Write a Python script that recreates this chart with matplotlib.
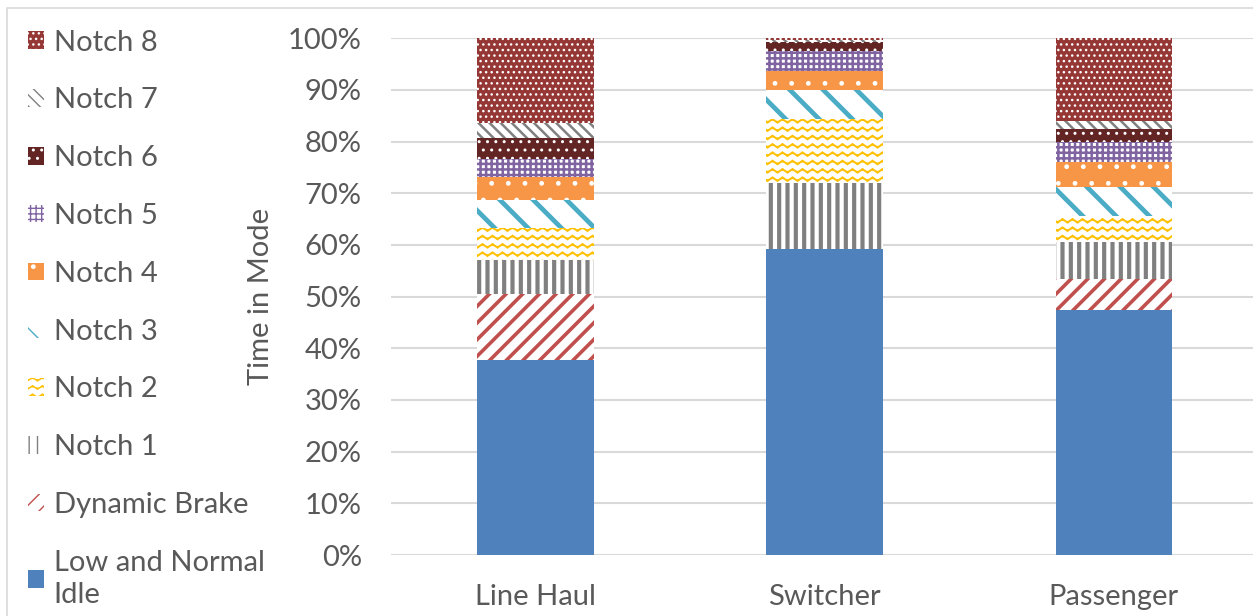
import numpy as np
import matplotlib
matplotlib.use("Agg")
import matplotlib.pyplot as plt
from matplotlib import hatch as mhatch
from matplotlib.patches import Rectangle
from matplotlib.ticker import PercentFormatter
import warnings

warnings.filterwarnings("ignore")

# --- data: share of time in each throttle mode (%) ---
categories = ["Line Haul", "Switcher", "Passenger"]
modes = ["Low and Normal\nIdle", "Dynamic Brake", "Notch 1", "Notch 2", "Notch 3",
         "Notch 4", "Notch 5", "Notch 6", "Notch 7", "Notch 8"]
idle = [37.7, 59.3, 47.4]
dyn_brake = [12.8, 0.0, 6.1]
notch1 = [6.6, 12.6, 7.1]
notch2 = [6.2, 12.4, 4.9]
notch3 = [5.4, 5.6, 5.7]
notch4 = [4.5, 3.8, 4.9]
notch5 = [3.5, 3.8, 3.9]
notch6 = [3.9, 1.8, 2.5]
notch7 = [3.0, 0.4, 1.5]
notch8 = [16.4, 0.3, 16.0]
series = [idle, dyn_brake, notch1, notch2, notch3, notch4, notch5, notch6, notch7, notch8]

# (facecolor, hatch colour, hatch, hatch linewidth)
styles = [
    ("#4F81BD", "#4F81BD", None, 1.0),
    ("white", "#C0504D", "//", 2.6),
    ("white", "#808080", "||", 3.0),
    ("white", "#FFC000", "~~", 1.4),
    ("white", "#4BACC6", "\\", 3.4),
    ("#F79646", "white", ".", 1.0),
    ("white", "#8064A2", "+++", 1.8),
    ("#632523", "white", "..", 1.0),
    ("white", "#808080", "\\\\\\", 1.8),
    ("#953735", "white", "...", 1.0),
]


# wavy hatch for Notch 2 ("~")
class WaveHatch(mhatch.HatchPatternBase):
    steps = 40

    def __init__(self, hatch, density):
        self.num_rows = int(hatch.count("~") * density)
        self.num_vertices = self.num_rows * (self.steps + 1)

    def set_vertices_and_codes(self, vertices, codes):
        x = np.linspace(0.0, 1.0, self.steps + 1)
        n = self.steps + 1
        for i in range(self.num_rows):
            y = (i + 0.5) / self.num_rows + 0.018 * np.sin(2 * np.pi * 10 * x)
            vertices[i * n:(i + 1) * n, 0] = x
            vertices[i * n:(i + 1) * n, 1] = y
            codes[i * n] = mhatch.Path.MOVETO
            codes[i * n + 1:(i + 1) * n] = mhatch.Path.LINETO


mhatch._hatch_types.append(WaveHatch)

plt.rcParams["font.family"] = ["Lato", "DejaVu Sans"]
plt.rcParams["font.size"] = 21
plt.rcParams["text.color"] = "#595959"

fig = plt.figure(figsize=(12.53, 6.16), dpi=100)
ax = fig.add_axes([0.312, 0.099, 0.69, 0.839])

x = np.arange(len(categories))
bottom = np.zeros(len(categories))
containers = []
for vals, (fc, hc, h, hlw) in zip(series, styles):
    with plt.rc_context({"hatch.linewidth": hlw}):
        bc = ax.bar(x, vals, width=0.403, bottom=bottom, facecolor=fc,
                    edgecolor=hc, hatch=h, linewidth=0, zorder=3)
    for p in bc.patches:
        if hasattr(p, "set_hatch_linewidth"):
            p.set_hatch_linewidth(hlw)
    containers.append(bc)
    bottom += np.array(vals)

ax.set_ylim(0, 100)
ax.set_xlim(-0.5, 2.49)
ax.set_yticks(np.arange(0, 101, 10))
ax.yaxis.set_major_formatter(PercentFormatter(decimals=0))
ax.set_xticks(x)
ax.set_xticklabels(categories)
ax.tick_params(length=0, colors="#595959", labelsize=21)
ax.tick_params(axis="y", pad=21)
ax.tick_params(axis="x", pad=21)
ax.grid(axis="y", color="#D9D9D9", linewidth=1.5, zorder=0)
for s in ax.spines.values():
    s.set_visible(False)
ax.set_ylabel("Time in Mode", fontsize=21, color="#595959", labelpad=10)

# legend, top entry first
leg = fig.legend(containers[::-1], modes[::-1], loc="upper left",
                 bbox_to_anchor=(0.022, 0.952), frameon=False, fontsize=21,
                 handlelength=0.55, handleheight=0.55, handletextpad=0.35,
                 labelspacing=1.09, borderpad=0, borderaxespad=0)
for t in leg.get_texts():
    t.set_color("#595959")
    t.set_linespacing(1.3)

# chart frame
fig.patches.append(Rectangle((7 / 1253, -0.1), 1.2, 1.1 - 8 / 616,
                             transform=fig.transFigure, fill=False,
                             edgecolor="#D9D9D9", linewidth=1.2))

fig.savefig("out.png", dpi=100)
